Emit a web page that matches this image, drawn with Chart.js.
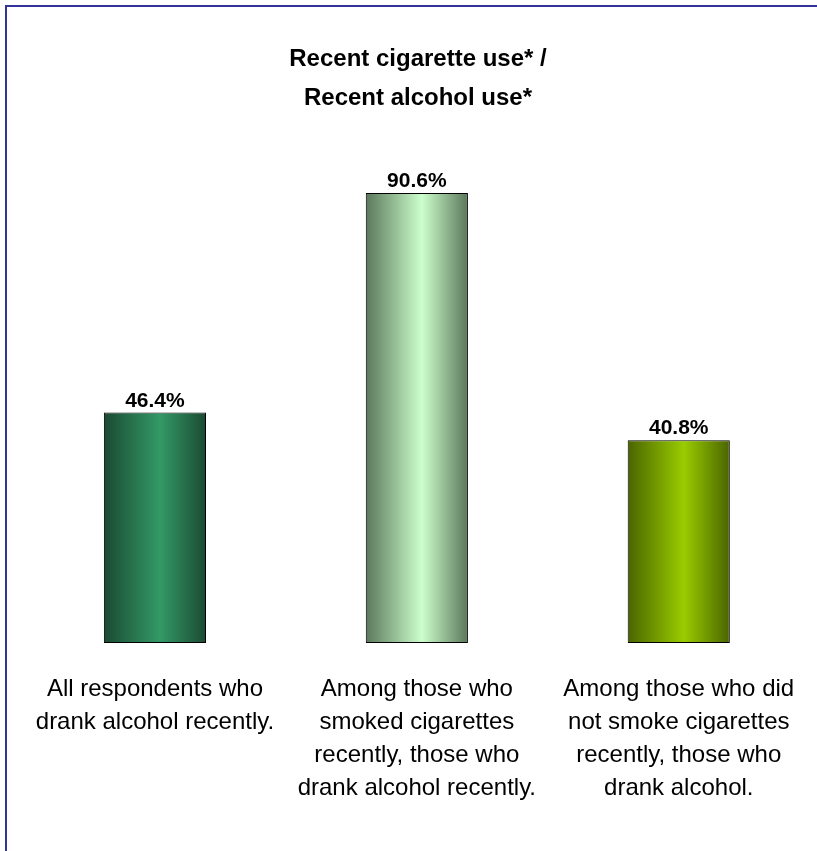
<!DOCTYPE html>
<html>
<head>
<meta charset="utf-8">
<title>Recent cigarette use / Recent alcohol use</title>
<script src="https://cdn.jsdelivr.net/npm/chart.js@4/dist/chart.umd.min.js"></script>
<style>
    html, body { margin: 0; padding: 0; background: #fff; overflow: hidden; }
    #wrap { position: relative; width: 817px; height: 851px; }
    #frame {
        position: absolute; left: 5px; top: 5px;
        width: 2000px; height: 2000px;
        border: 2px solid #333399;
        pointer-events: none;
    }
    canvas { display: block; }
</style>
</head>
<body>
<div id="wrap">
    <canvas id="chart" width="817" height="851"></canvas>
    <div id="frame"></div>
</div>
<script>
// Chart data
const categories = [
    ['All respondents who', 'drank alcohol recently.'],
    ['Among those who', 'smoked cigarettes', 'recently, those who', 'drank alcohol recently.'],
    ['Among those who did', 'not smoke cigarettes', 'recently, those who', 'drank alcohol.']
];
const values = [46.4, 90.6, 40.8];
const titleLines = ['Recent cigarette use* /', 'Recent alcohol use*'];

// edge / centre colours for each bar's gradient
const edgeColors = ['#1b4a33', '#5b775b', '#4a6400'];
const centerColors = ['#339966', '#ccffcc', '#99cc00'];

const BAR_PCT = 0.39;
const FONT = '"Liberation Sans", Arial, sans-serif';

function barGradient(ctx) {
    const chart = ctx.chart;
    const area = chart.chartArea;
    const i = ctx.dataIndex;
    if (!area || i === undefined) return centerColors[i || 0];
    const x = chart.scales.x.getPixelForValue(i);
    const half = (area.width / categories.length) * BAR_PCT / 2;
    const g = chart.ctx.createLinearGradient(x - half, 0, x + half, 0);
    g.addColorStop(0, edgeColors[i]);
    g.addColorStop(0.55, centerColors[i]);
    g.addColorStop(1, edgeColors[i]);
    return g;
}

// value labels above the bars
const valueLabels = {
    id: 'valueLabels',
    afterDatasetsDraw(chart) {
        const c = chart.ctx;
        const meta = chart.getDatasetMeta(0);
        c.save();
        c.font = 'bold 21px ' + FONT;
        c.fillStyle = '#000';
        c.textAlign = 'center';
        c.textBaseline = 'alphabetic';
        meta.data.forEach((bar, i) => {
            c.fillText(values[i].toFixed(1) + '%', bar.x, bar.y - 6);
        });
        c.restore();
    }
};

new Chart(document.getElementById('chart'), {
    type: 'bar',
    data: {
        labels: categories,
        datasets: [{
            data: values,
            backgroundColor: barGradient,
            borderColor: '#000',
            borderWidth: 1,
            borderSkipped: false,
            barPercentage: BAR_PCT,
            categoryPercentage: 1
        }]
    },
    options: {
        responsive: false,
        animation: false,
        layout: { padding: { left: 24, right: 5, top: 0, bottom: 0 } },
        plugins: {
            legend: { display: false },
            tooltip: { enabled: false },
            title: {
                display: true,
                text: titleLines,
                color: '#000',
                font: { family: FONT, size: 24, weight: 'bold', lineHeight: 1.63 },
                padding: { top: 40, bottom: 28 }
            }
        },
        scales: {
            x: {
                grid: { display: false },
                border: { display: false },
                ticks: {
                    color: '#000',
                    font: { family: FONT, size: 24, lineHeight: 1.375 },
                    padding: 22,
                    maxRotation: 0,
                    autoSkip: false
                },
                afterFit(scale) { scale.height = 208; }
            },
            y: {
                display: false,
                min: 0,
                max: 100
            }
        }
    },
    plugins: [valueLabels]
});
</script>
</body>
</html>
